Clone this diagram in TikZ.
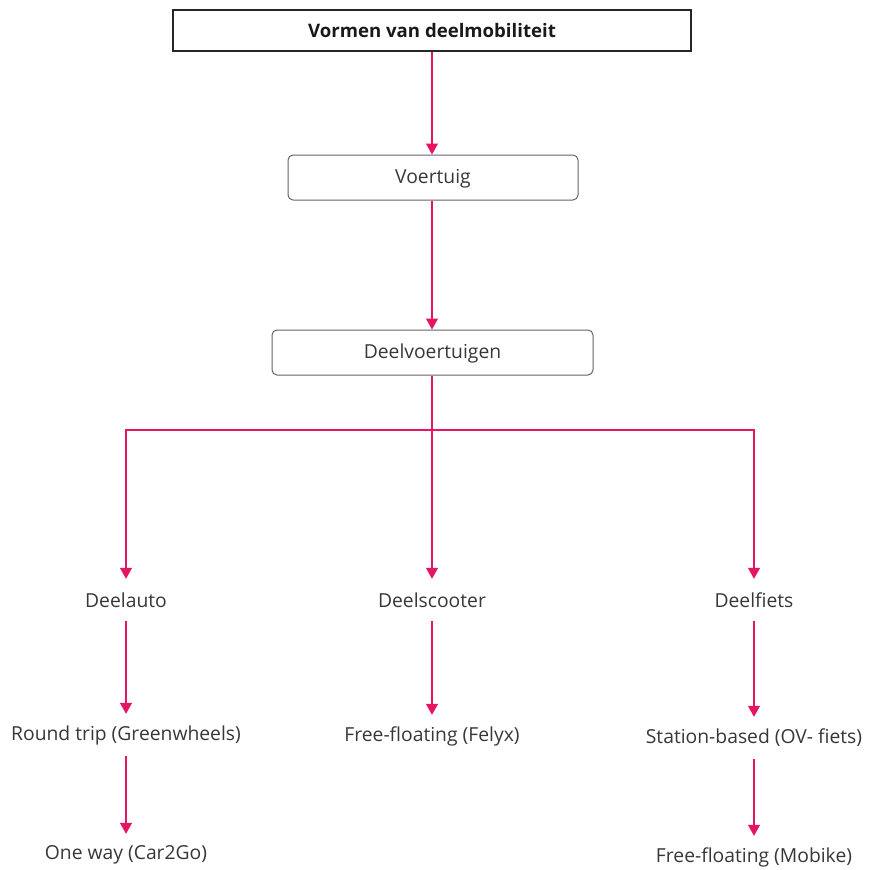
\documentclass[tikz,border=0pt]{standalone}
\usepackage{fontspec}
\setmainfont{Open Sans}
\usetikzlibrary{arrows.meta}
\definecolor{linkpink}{RGB}{230,20,100}
\definecolor{txtgray}{RGB}{55,55,55}
\definecolor{boxgray}{RGB}{100,100,100}
\begin{document}
\begin{tikzpicture}[x=1pt,y=-1pt,
  every node/.style={font=\fontsize{19.3}{23}\selectfont, text=txtgray},
  titlebox/.style={draw=black!85, line width=2pt, minimum width=518pt, minimum height=41pt,
    font=\fontsize{18.6}{23}\selectfont\bfseries, text=black!90},
  roundbox/.style={draw=boxgray, line width=1pt, rounded corners=5pt, minimum height=45pt,
    text height=12.5pt, text depth=0pt},
  label/.style={minimum height=42pt, inner sep=0pt},
  link/.style={draw=linkpink, line width=1.1pt},
  arrow/.style={link, -{Triangle[width=12pt,length=11pt]}}]
\useasboundingbox (0,0) rectangle (869,870);

\node[titlebox] (title) at (432,30.5) {Vormen van deelmobiliteit};
\node[roundbox, minimum width=290pt] (vt) at (433,177.5) {Voertuig};
\node[roundbox, minimum width=321pt] (dv) at (432.5,352.5) {Deelvoertuigen};

\node[label] (auto) at (126,600) {Deelauto};
\node[label] (scooter) at (432,600) {Deelscooter};
\node[label] (fiets) at (754,600) {Deelfiets};

\node[label] (round) at (126,735) {Round trip (Greenwheels)};
\node[label] (oneway) at (126,855) {One way (Car2Go)};
\node[label] (felyx) at (432,736) {Free-floating (Felyx)};
\node[label] (station) at (754,738) {Station-based (OV- fiets)};
\node[label] (mobike) at (754,857) {Free-floating (Mobike)};

\coordinate (bus) at (432,430);

\draw[arrow] (title.south -| 432,0) -- (vt.north -| 432,0);
\draw[arrow] (vt.south -| 432,0) -- (dv.north -| 432,0);
\draw[link] (dv.south -| 432,0) -- (bus);
\draw[arrow] (bus) -| (auto.north);
\draw[arrow] (bus) -- (scooter.north);
\draw[arrow] (bus) -| (fiets.north);

\draw[arrow] (auto) -- (round);
\draw[arrow] (round) -- (oneway);
\draw[arrow] (scooter) -- (felyx);
\draw[arrow] (fiets) -- (station);
\draw[arrow] (station) -- (mobike);
\end{tikzpicture}
\end{document}
